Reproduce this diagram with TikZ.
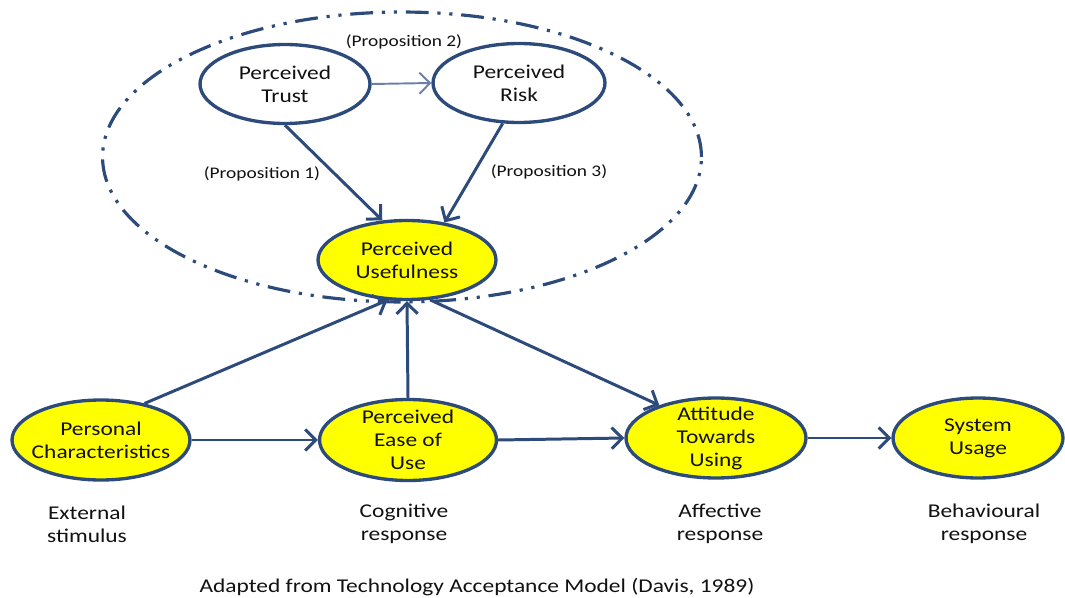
\documentclass[tikz,border=0pt]{standalone}
\usepackage{fontspec}
\setmainfont[FakeStretch=1.2]{Carlito}
\usetikzlibrary{shapes.geometric,arrows.meta}
\definecolor{tamblue}{HTML}{2C4A7A}
\definecolor{tamlight}{HTML}{6A80A6}
\definecolor{tamyellow}{HTML}{FFFF00}
\definecolor{tamtext}{HTML}{111111}

\begin{document}
\begin{tikzpicture}[x=0.02cm, y=-0.02cm,
		every node/.style={font=\fontsize{11.1}{13.1}\selectfont, text=tamtext},
		construct/.style={ellipse, draw=tamblue, line width=1.9pt, inner sep=0pt, minimum height=1.58cm},
		core/.style={construct, fill=tamyellow},
		nodetext/.style={align=center},
		prop/.style={font=\fontsize{9.2}{11}\selectfont},
		link/.style={draw=tamblue, line width=1.7pt, -{Straight Barb[length=6pt,width=12pt]}}]
	\useasboundingbox (0,0) rectangle (1065,598);

	% grouping of the extension constructs
	\node[ellipse, draw=tamblue, line width=1.8pt, minimum width=11.98cm, minimum height=5.8cm,
		dash pattern=on 13pt off 5pt on 1.8pt off 5pt on 1.8pt off 5pt] (grp) at (402,157) {};

	\node[construct, minimum width=3.4cm, label={[nodetext]center:Perceived\\Trust}] (pt) at (285,84) {};
	\node[construct, minimum width=3.44cm, label={[nodetext]center:Perceived\\Risk}] (pr) at (519,83) {};
	\node[core, minimum width=3.56cm, label={[nodetext]center:Perceived\\Usefulness}] (pu) at (407,260) {};

	\node[core, minimum width=3.56cm, minimum height=1.6cm, label={[nodetext]center:Personal\\Characteristics}] (pc) at (101,440) {};
	\node[core, minimum width=3.54cm, minimum height=1.62cm, label={[nodetext]center:Perceived\\Ease of\\Use}] (peu) at (408,440) {};
	\node[core, minimum width=3.6cm, minimum height=1.6cm, label={[nodetext]center:Attitude\\Towards\\Using}] (atu) at (716,438) {};
	\node[core, minimum width=3.4cm, minimum height=1.6cm, label={[nodetext]center:System\\Usage}] (su) at (978,438) {};

	\node[prop] (p2) at (404,42) {(Proposition 2)};
	\node[prop] (p1) at (262,174) {(Proposition 1)};
	\node[prop] (p3) at (549,172) {(Proposition 3)};

	\node[nodetext] (ext) at (87,524) {External\\stimulus};
	\node[nodetext] (cog) at (404,524) {Cognitive\\response};
	\node[nodetext] (aff) at (720,524) {Affective\\response};
	\node[nodetext] (beh) at (984,524) {Behavioural\\response};

	\node (cap) at (477,587) {Adapted from Technology Acceptance Model (Davis, 1989)};

	\draw[link, draw=tamlight, line width=1.1pt] (pt.east) -- (pr.west);
	\draw[link] (pt.south) -- (pu.122);
	\draw[link] (pr.248) -- (pu.45);
	\draw[link] (pc.40) -- (pu.244);
	\draw[link] (peu.north) -- (pu.south);
	\draw[link] (pu.-60) -- (atu.150);
	\draw[link] (pc.east) -- (peu.west);
	\draw[link] (peu.east) -- (atu.west);
	\draw[link] (atu.east) -- (su.west);
\end{tikzpicture}
\end{document}
